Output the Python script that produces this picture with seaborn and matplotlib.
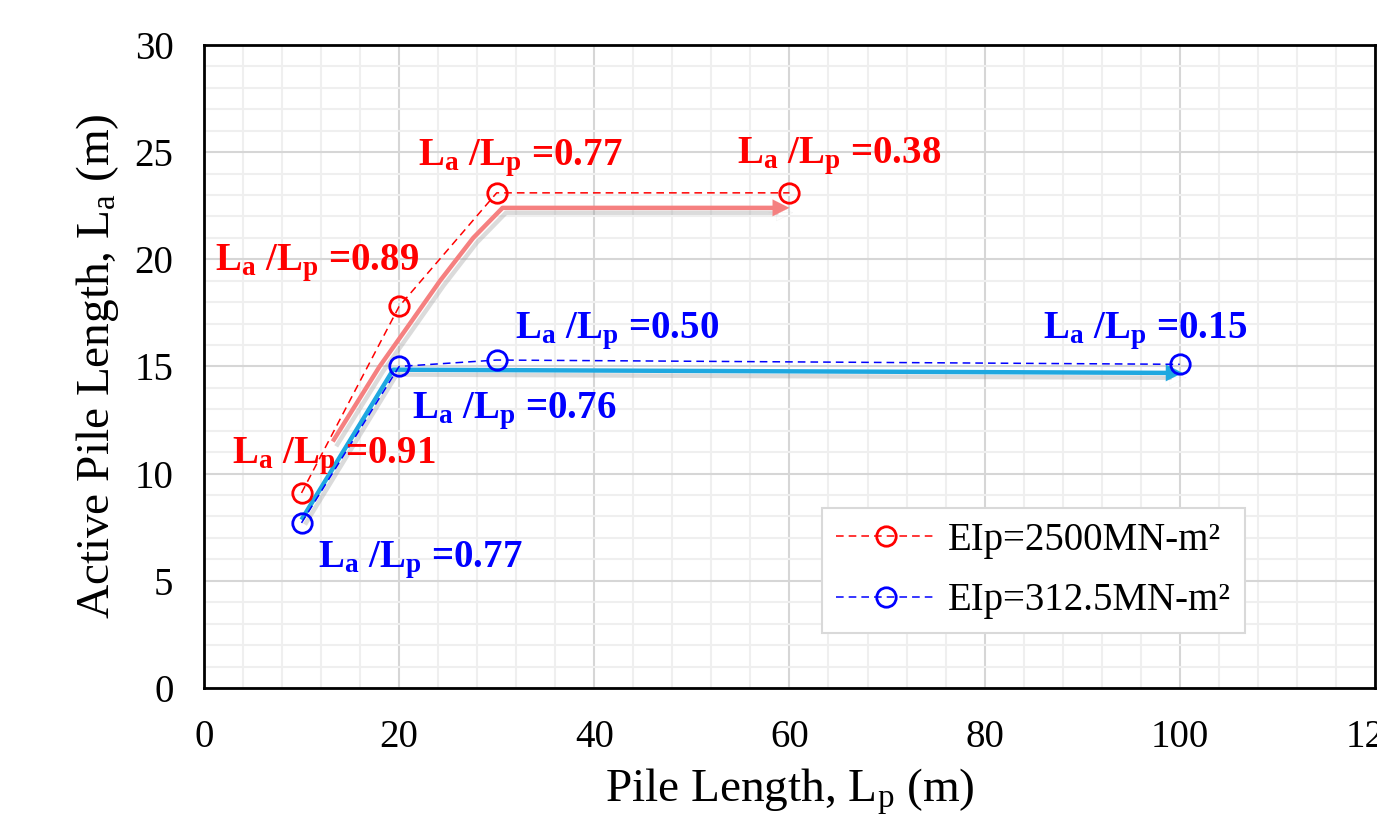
import numpy as np
import pandas as pd
import matplotlib
matplotlib.use("Agg")
import matplotlib.pyplot as plt
import matplotlib.patheffects as pe
from matplotlib.ticker import MultipleLocator
import seaborn as sns

# values
pile_len_stiff = [10, 20, 30, 60]
active_len_stiff = [9.1, 17.8, 23.1, 23.1]
pile_len_soft = [10, 20, 30, 100]
active_len_soft = [7.7, 15.0, 15.3, 15.1]

series_labels = ["EIp=2500MN-m\u00b2", "EIp=312.5MN-m\u00b2"]

# La/Lp ratio labels and where they sit (x, baseline y)
ratio_text_stiff = ["0.91", "0.89", "0.77", "0.38"]
ratio_pos_stiff = [(2.9, 10.5), (1.1, 19.5), (21.9, 24.4), (54.6, 24.5)]
ratio_text_soft = ["0.77", "0.76", "0.50", "0.15"]
ratio_pos_soft = [(11.7, 5.65), (21.3, 12.6), (31.9, 16.3), (86.0, 16.3)]

# trend arrows
trend_x_stiff = [13.2, 18.0, 20.8, 24.2, 27.6, 30.6, 60.0]
trend_y_stiff = [11.5, 15.0, 16.8, 19.0, 21.0, 22.4, 22.4]
trend_x_soft = [10.0, 19.4, 100.3]
trend_y_soft = [7.85, 14.85, 14.7]

sns.set_theme(style="white")
plt.rcParams["font.family"] = ["Liberation Serif", "DejaVu Serif"]
plt.rcParams["mathtext.fontset"] = "custom"
plt.rcParams["mathtext.rm"] = "Liberation Serif"
plt.rcParams["mathtext.it"] = "Liberation Serif:italic"
plt.rcParams["mathtext.bf"] = "Liberation Serif:bold"
plt.rcParams["text.color"] = "black"
plt.rcParams["axes.labelcolor"] = "black"

fig, ax = plt.subplots(figsize=(13.77, 8.25), dpi=100)
fig.subplots_adjust(left=0.1481, right=0.9985, bottom=0.1661, top=0.9455)

# grid
ax.set_xlim(0, 120)
ax.set_ylim(0, 30)
ax.xaxis.set_major_locator(MultipleLocator(20))
ax.xaxis.set_minor_locator(MultipleLocator(4))
ax.yaxis.set_major_locator(MultipleLocator(5))
ax.yaxis.set_minor_locator(MultipleLocator(1))
ax.grid(which="minor", color="#efefef", linewidth=1.5, zorder=0)
ax.grid(which="major", color="#d6d6d6", linewidth=1.5, zorder=0)
ax.set_axisbelow(True)

# trend arrows with drop shadow
shadow = [pe.SimpleLineShadow(offset=(2.5, -3.5), shadow_color="#999999", alpha=0.35), pe.Normal()]
trends = [(trend_x_stiff, trend_y_stiff, "#f58080"), (trend_x_soft, trend_y_soft, "#1fa8e0")]
for tx, ty, col in trends:
    ax.plot(tx[:-1] + [tx[-1] - 1.5], ty[:-1] + [ty[-1]], color=col, lw=3.2,
            solid_capstyle="butt", solid_joinstyle="round", path_effects=shadow, zorder=2)
    ax.annotate("", xy=(tx[-1], ty[-1]), xytext=(tx[-1] - 2.5, ty[-1]),
                arrowprops=dict(arrowstyle="-|>", color=col, lw=0.1, mutation_scale=30,
                                shrinkA=0, shrinkB=0, path_effects=shadow), zorder=2)

# data series
dash = (0, (5, 3.3))
sns.lineplot(x=pile_len_stiff, y=active_len_stiff, ax=ax, color="red", lw=1.1,
             linestyle=dash, marker="o", markersize=14, markerfacecolor="none",
             markeredgecolor="red", markeredgewidth=2, label=series_labels[0],
             errorbar=None, sort=False, zorder=3)
sns.lineplot(x=pile_len_soft, y=active_len_soft, ax=ax, color="blue", lw=1.1,
             linestyle=dash, marker="o", markersize=14, markerfacecolor="none",
             markeredgecolor="blue", markeredgewidth=2, label=series_labels[1],
             errorbar=None, sort=False, zorder=3)

# ratio annotations
for txts, poss, col in [(ratio_text_stiff, ratio_pos_stiff, "red"),
                        (ratio_text_soft, ratio_pos_soft, "blue")]:
    for t, (px, py) in zip(txts, poss):
        ax.text(px, py, r"L$_\mathbf{a}$ /L$_\mathbf{p}$ =" + t, color=col,
                fontsize=28, fontweight="bold", va="baseline", ha="left", zorder=4)

ax.set_xlabel(r"Pile Length, L$_\mathregular{p}$ (m)", fontsize=34, labelpad=8, color="black")
ax.set_ylabel(r"Active Pile Length, L$_\mathregular{a}$ (m)", fontsize=34, labelpad=10, color="black")
ax.tick_params(axis="both", which="both", length=0, labelsize=28, pad=22,
               colors="black", labelcolor="black")

for s in ax.spines.values():
    s.set_color("black")
    s.set_linewidth(2)

leg = ax.legend(loc="lower right", bbox_to_anchor=(0.889, 0.0855), borderaxespad=0,
                fontsize=28, frameon=True, fancybox=False, framealpha=1,
                edgecolor="#d9d9d9", handlelength=2.6, handletextpad=0.3,
                labelspacing=0.6, borderpad=0.35)
leg.get_frame().set_linewidth(1.5)
for t in leg.get_texts():
    t.set_color("black")

fig.savefig("out.png", dpi=100)
